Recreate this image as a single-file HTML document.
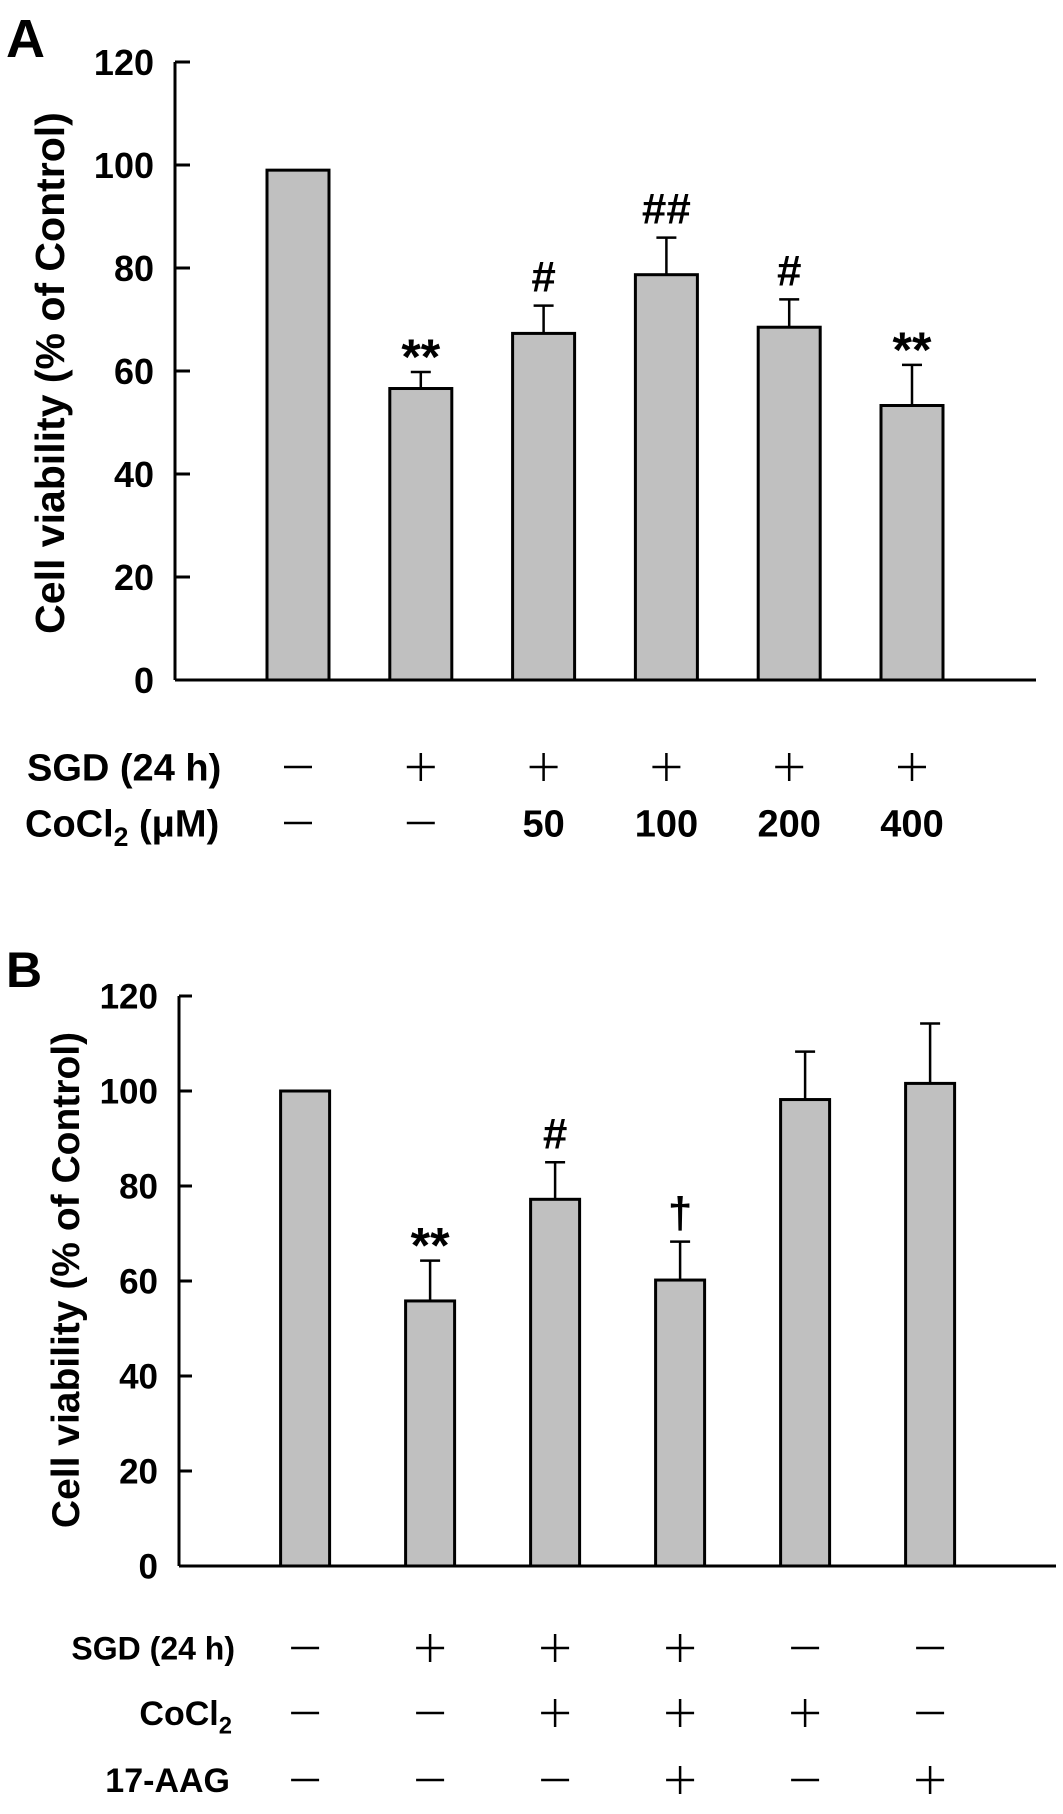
<!DOCTYPE html>
<html><head><meta charset="utf-8"><style>
html,body{margin:0;padding:0;background:#fff;}
svg{display:block;font-family:"Liberation Sans",Arial,sans-serif;font-weight:bold;}
</style></head><body>
<svg id="fig" width="1063" height="1814" viewBox="0 0 1063 1814" xmlns="http://www.w3.org/2000/svg">
<text x="6" y="57" font-size="54">A</text>
<text x="6" y="987" font-size="50">B</text>
<text transform="translate(64,373) rotate(-90)" text-anchor="middle" font-size="41">Cell viability (% of Control)</text>
<text transform="translate(79,1280) rotate(-90)" text-anchor="middle" font-size="39">Cell viability (% of Control)</text>
<g id="ga"></g><g id="gb"></g>
</svg>
<script>
const NS="http://www.w3.org/2000/svg";
const ticksA=[0,20,40,60,80,100,120];
const valuesA=[99,56.6,67.3,78.7,68.5,53.3];
const errorsA=[0,3.2,5.4,7.2,5.4,7.9];
const annotA=["","**","#","##","#","**"];
const sgdA=["-","+","+","+","+","+"];
const cocl2A=["-","-","50","100","200","400"];
const ticksB=[0,20,40,60,80,100,120];
const valuesB=[100,55.8,77.2,60.2,98.2,101.6];
const errorsB=[0,8.5,7.8,8.1,10.1,12.6];
const annotB=["","**","#","\u2020","",""];
const sgdB=["-","+","+","+","-","-"];
const cocl2B=["-","-","+","+","+","-"];
const aagB=["-","-","-","+","-","+"];

function mk(parent,tag,attrs,txt){const e=document.createElementNS(NS,tag);for(const k in attrs)e.setAttribute(k,attrs[k]);if(txt!==undefined)e.textContent=txt;parent.appendChild(e);return e;}
function sym(g,s,cx,cy,fs){
  if(s==="+"||s==="-"){
    const l=mk(g,"line",{x1:cx-14,x2:cx+14,y1:cy,y2:cy,stroke:"#000","stroke-width":2.5});
    
    
    if(s==="+"){const v=mk(g,"line",{x1:cx,x2:cx,y1:cy-14,y2:cy+14,stroke:"#000","stroke-width":2.5});
      
      }
  } else {
    const t=mk(g,"text",{x:cx,y:cy+fs*0.36,"text-anchor":"middle","font-size":fs},s);
    
    
  }
}
function panel(g,o){
  const y=v=>o.y0-(v/120)*(o.y0-o.y120);
  const ax=mk(g,"line",{x1:o.ax,x2:o.ax,y1:o.y120,y2:o.y0,stroke:"#000","stroke-width":3});
  
  
  const xa=mk(g,"line",{x1:o.ax,x2:o.axEnd,y1:o.y0,y2:o.y0,stroke:"#000","stroke-width":3});
  
  
  o.ticks.forEach(t=>{
    const tk=mk(g,"line",{x1:o.ax,x2:o.ax+o.tl,y1:y(t),y2:y(t),stroke:"#000","stroke-width":3});
    
    
    const tl=mk(g,"text",{x:o.labR,y:y(t)+o.tfs*0.36,"text-anchor":"end","font-size":o.tfs},String(t));
    
    
  });
  o.values.forEach((v,i)=>{
    const left=o.bx0+i*o.step, cx=left+o.bw/2;
    if(o.errors[i]>0){
      const eb=mk(g,"line",{x1:cx,x2:cx,y1:y(v),y2:y(v+o.errors[i]),stroke:"#000","stroke-width":2.5});
      
      
      const ec=mk(g,"line",{x1:cx-10,x2:cx+10,y1:y(v+o.errors[i]),y2:y(v+o.errors[i]),stroke:"#000","stroke-width":2.5});
      
      
    }
    const r=mk(g,"rect",{x:left,y:y(v),width:o.bw,height:o.y0-y(v),fill:"#c0c0c0",stroke:"#000","stroke-width":3});
    
    
    if(o.annot[i]){
      const top=y(v+o.errors[i]);
      const isStar=o.annot[i]==="**";
      const a=mk(g,"text",{x:cx,y:top-(isStar?-2:14),"text-anchor":"middle","font-size":isStar?50:44},o.annot[i]);
      
      
    }
    o.rows.forEach(rw=>sym(g,rw.vals[i],cx,rw.y,rw.fs));
  });
  o.rows.forEach(rw=>{
    const t=mk(g,"text",{x:rw.lx,y:rw.y+rw.fs*0.36,"text-anchor":rw.anchor,"font-size":rw.fs});
    
    
    if(rw.sub){
      mk(t,"tspan",{},"CoCl");
      mk(t,"tspan",{"font-size":rw.fs*0.7,dy:rw.fs*0.25},"2");
      mk(t,"tspan",{dy:-rw.fs*0.25},rw.rest||"");
    } else t.textContent=rw.label;
  });
}
panel(document.getElementById("ga"),{ax:175,axEnd:1036,y0:680,y120:62,tl:15,labR:154,tfs:36,
  ticks:ticksA,values:valuesA,errors:errorsA,annot:annotA,bx0:267,bw:62,step:122.8,
  rows:[{vals:sgdA,y:767,fs:38,lx:27,anchor:"start",label:"SGD (24 h)"},
        {vals:cocl2A,y:823,fs:38,lx:25,anchor:"start",sub:true,rest:"\u00a0(\u03bcM)"}]});
panel(document.getElementById("gb"),{ax:179,axEnd:1056,y0:1566,y120:996,tl:13,labR:158,tfs:35,
  ticks:ticksB,values:valuesB,errors:errorsB,annot:annotB,bx0:280.6,bw:49,step:125,
  rows:[{vals:sgdB,y:1648,fs:32,lx:235,anchor:"end",label:"SGD (24 h)"},
        {vals:cocl2B,y:1713,fs:34,lx:232,anchor:"end",sub:true,rest:""},
        {vals:aagB,y:1780,fs:34,lx:230,anchor:"end",label:"17-AAG"}]});
</script>
</body></html>
